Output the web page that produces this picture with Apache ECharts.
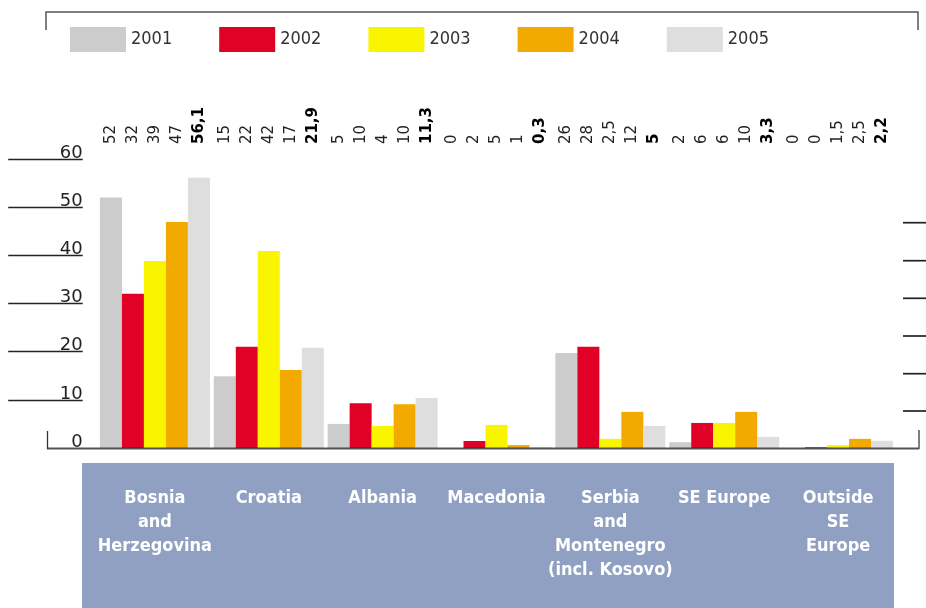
<!DOCTYPE html>
<html>
<head>
<meta charset="utf-8">
<script src="https://cdn.jsdelivr.net/npm/echarts@6/dist/echarts.min.js"></script>
<style>
  html, body { margin: 0; padding: 0; background: #fff; }
  #chart { width: 926px; height: 608px; }
</style>
</head>
<body>
<div id="chart"></div>
<script>
// categories along the x axis
const categories = [
  'Bosnia\nand\nHerzegovina',
  'Croatia',
  'Albania',
  'Macedonia',
  'Serbia\nand\nMontenegro\n(incl. Kosovo)',
  'SE Europe',
  'Outside\nSE\nEurope'
]
const years = ['2001', '2002', '2003', '2004', '2005']
const yearColors = ['#cccccc', '#e10026', '#f9f500', '#f2a900', '#dedede']

// bar heights as drawn in the picture
const bars2001 = [52, 14.9, 5, 0, 19.7, 1.2, 0]
const bars2002 = [32, 21, 9.3, 1.45, 21, 5.2, 0.15]
const bars2003 = [38.8, 40.9, 4.6, 4.8, 1.9, 5.2, 0.6]
const bars2004 = [46.9, 16.2, 9.1, 0.6, 7.5, 7.5, 1.9]
const bars2005 = [56.1, 20.8, 10.4, 0.2, 4.6, 2.3, 1.5]

// numbers printed above the chart
const text2001 = ['52', '15', '5', '0', '26', '2', '0']
const text2002 = ['32', '22', '10', '2', '28', '6', '0']
const text2003 = ['39', '42', '4', '5', '2,5', '6', '1,5']
const text2004 = ['47', '17', '10', '1', '12', '10', '2,5']
const text2005 = ['56,1', '21,9', '11,3', '0,3', '5', '3,3', '2,2']

const yTicks = [0, 10, 20, 30, 40, 50, 60]

const barSets = [bars2001, bars2002, bars2003, bars2004, bars2005]
const textSets = [text2001, text2002, text2003, text2004, text2005]

const chart = echarts.init(document.getElementById('chart'))

const barSeries = years.map((y, i) => ({
  name: y,
  type: 'bar',
  xAxisIndex: 0,
  yAxisIndex: 0,
  barGap: '0%',
  barCategoryGap: '3.4%',
  itemStyle: { color: yearColors[i] },
  data: barSets[i]
}))

// invisible full-height bars, only to carry the printed numbers at the top
const labelSeries = years.map((y, i) => ({
  type: 'bar',
  xAxisIndex: 1,
  yAxisIndex: 1,
  silent: true,
  barGap: '0%',
  barCategoryGap: '3.4%',
  itemStyle: { color: 'rgba(0,0,0,0)' },
  label: {
    show: true,
    position: 'top',
    distance: 15,
    rotate: 90,
    align: 'left',
    verticalAlign: 'middle',
    fontFamily: 'DejaVu Sans',
    fontSize: 15,
    fontWeight: i === 4 ? 'bold' : 'normal',
    color: i === 4 ? '#000' : '#222',
    formatter: p => textSets[i][p.dataIndex]
  },
  data: categories.map(() => 1)
}))

// one legend block per year, spaced like the original
const legends = years.map((y, i) => ({
  data: [y],
  left: 70 + i * 149.2,
  top: 27,
  padding: 0,
  itemWidth: 56,
  itemHeight: 25,
  icon: 'rect',
  textStyle: {
    fontFamily: 'DejaVu Sans Condensed',
    fontSize: 18,
    color: '#333'
  }
}))

chart.setOption({
  animation: false,
  legend: legends,
  grid: { left: 98, right: 31, top: 159, bottom: 160 },
  xAxis: [
    {
      type: 'category',
      data: categories,
      z: 10,
      axisLine: { show: false },
      axisTick: { show: false },
      axisLabel: {
        interval: 0,
        margin: 38,
        color: '#fff',
        fontFamily: 'DejaVu Sans Condensed',
        fontWeight: 'bold',
        fontSize: 18,
        lineHeight: 24
      }
    },
    {
      type: 'category',
      data: categories,
      show: false
    }
  ],
  yAxis: [
    {
      type: 'value',
      min: 0,
      max: 60,
      interval: 10,
      position: 'left',
      offset: 15.3,
      axisLine: { show: false },
      splitLine: { show: false },
      axisTick: {
        show: true,
        length: 74.5,
        customValues: yTicks.slice(1),
        lineStyle: { color: '#222', width: 1.3 }
      },
      axisLabel: {
        customValues: yTicks,
        margin: 0,
        verticalAlign: 'bottom',
        lineHeight: 12,
        fontFamily: 'DejaVu Sans',
        fontSize: 18,
        color: '#222'
      }
    },
    { type: 'value', min: 0, max: 1, show: false }
  ],
  graphic: [
    // category box
    { type: 'rect', z: -10, silent: true, shape: { x: 82, y: 463, width: 812, height: 145 }, style: { fill: '#8fa0c2' } },
    // legend frame
    { type: 'polyline', silent: true, shape: { points: [[46, 30], [46, 12], [918, 12], [918, 30]] }, style: { stroke: '#555', lineWidth: 1.5, fill: null } },
    // baseline and its end ticks
    { type: 'line', z: 100, silent: true, shape: { x1: 47, y1: 448.5, x2: 919, y2: 448.5 }, style: { stroke: 'rgba(40,40,40,0.8)', lineWidth: 2 } },
    { type: 'line', z: 100, silent: true, shape: { x1: 47.5, y1: 431, x2: 47.5, y2: 449 }, style: { stroke: '#333', lineWidth: 1.3 } },
    { type: 'line', z: 100, silent: true, shape: { x1: 919, y1: 430, x2: 919, y2: 449 }, style: { stroke: '#555', lineWidth: 1.5 } },
    // right-hand tick marks
    ...[222.7, 260.7, 298.3, 336, 373.7, 411].map(y => ({
      type: 'line', silent: true,
      shape: { x1: 903, y1: y, x2: 926, y2: y },
      style: { stroke: '#222', lineWidth: 1.7 }
    }))
  ],
  series: [...barSeries, ...labelSeries]
})
</script>
</body>
</html>
